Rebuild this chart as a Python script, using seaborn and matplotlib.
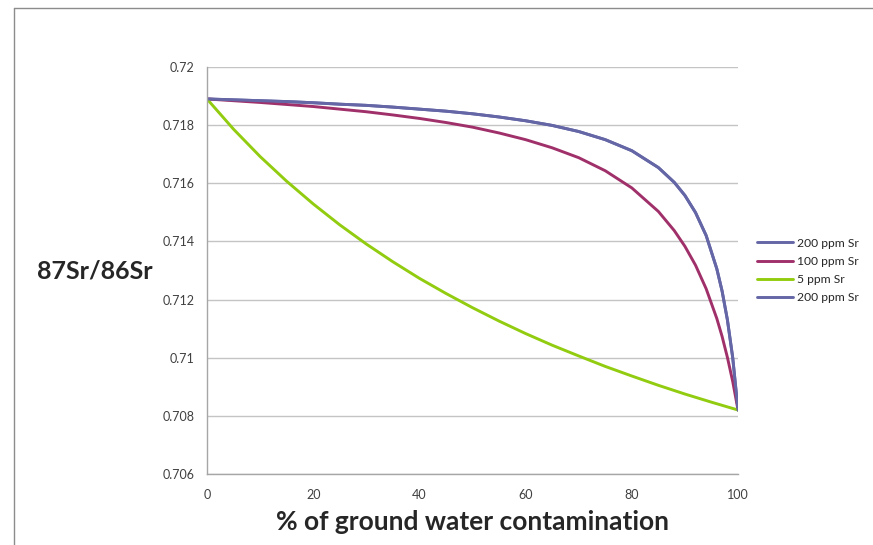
import numpy as np
import pandas as pd
import matplotlib
matplotlib.use("Agg")
from matplotlib import pyplot as plt
from matplotlib.lines import Line2D
import seaborn as sns

# % of ground water contamination
x_pct = [0, 5, 10, 15, 20, 25, 30, 35, 40, 45, 50, 55, 60, 65, 70, 75, 80, 85,
         88, 90, 92, 94, 96, 97, 98, 99, 100]

# 87Sr/86Sr
sr_200 = [0.71890, 0.71887, 0.71884, 0.71881, 0.71877, 0.71872, 0.71868, 0.71862,
          0.71855, 0.71848, 0.71839, 0.71828, 0.71815, 0.71799, 0.71778, 0.71750,
          0.71712, 0.71654, 0.71603, 0.71558, 0.71499, 0.71420, 0.71306, 0.71229,
          0.71130, 0.71000, 0.70820]
sr_100 = [0.71890, 0.71884, 0.71878, 0.71871, 0.71864, 0.71855, 0.71846, 0.71835,
          0.71823, 0.71809, 0.71793, 0.71773, 0.71750, 0.71722, 0.71688, 0.71643,
          0.71584, 0.71503, 0.71437, 0.71383, 0.71318, 0.71237, 0.71135, 0.71073,
          0.71001, 0.70918, 0.70820]

x_green = [0, 5, 10, 15, 20, 25, 30, 35, 40, 45, 50, 55, 60, 65, 70, 75, 80, 85,
           90, 95, 100]
sr_5 = [0.71890, 0.71786, 0.71692, 0.71607, 0.71529, 0.71457, 0.71391, 0.71330,
        0.71273, 0.71221, 0.71172, 0.71126, 0.71083, 0.71043, 0.71006, 0.70970,
        0.70937, 0.70905, 0.70875, 0.70847, 0.70820]

labels = ["200 ppm Sr", "100 ppm Sr", "5 ppm Sr", "200 ppm Sr"]
colors = ["#6466a6", "#a0306a", "#92cc10", "#6466a6"]

sns.set_style("white")
plt.rcParams['font.family'] = ['Lato', 'DejaVu Sans']

fig = plt.figure(figsize=(8.73, 5.45), dpi=100)
ax = fig.add_axes([0.2371, 0.1303, 0.6083, 0.7468])

series = [(x_pct, sr_200), (x_pct, sr_100), (x_green, sr_5), (x_pct, sr_200)]
for (xs, ys), lab, col in zip(series, labels, colors):
    d = pd.DataFrame({"x": xs, "y": ys})
    sns.lineplot(data=d, x="x", y="y", ax=ax, color=col, linewidth=2.1,
                 label=lab, sort=False)

ax.set_xlim(0, 100)
ax.set_ylim(0.706, 0.720)
ax.set_xticks(np.arange(0, 101, 20))
ax.set_xticks(np.arange(0, 101, 5), minor=True)
ax.set_yticks(np.arange(0.706, 0.7201, 0.002))
ax.set_yticklabels(["0.706", "0.708", "0.71", "0.712", "0.714", "0.716",
                    "0.718", "0.72"])

# excel style grid and axes
ax.grid(axis="y", color="#c4c4c4", linewidth=1)
ax.grid(axis="x", visible=False)
for s in ["top", "right"]:
    ax.spines[s].set_visible(False)
for s in ["left", "bottom"]:
    ax.spines[s].set_color("#a6a6a6")
    ax.spines[s].set_linewidth(1)
ax.tick_params(axis="both", which="both", direction="out", color="#a6a6a6",
               labelsize=9, labelcolor="#404040")
ax.tick_params(axis="x", which="major", length=5, pad=6)
ax.tick_params(axis="x", which="minor", length=4)
ax.tick_params(axis="y", which="major", length=5, pad=4)

ax.set_xlabel("% of ground water contamination", fontsize=19, fontweight="bold",
              labelpad=6)
ax.set_ylabel("")
fig.text(0.109, 0.503, "87Sr/86Sr", fontsize=18, fontweight="bold",
         ha="center", va="center")

leg = ax.legend(loc="center left", bbox_to_anchor=(1.015, 0.50), frameon=False,
                fontsize=8.7, handlelength=3.0, handletextpad=0.3,
                labelspacing=0.6)

# chart area border
fig.add_artist(Line2D([14 / 873, 1], [1 - 8 / 545, 1 - 8 / 545],
                      color="#8c8c8c", linewidth=1))
fig.add_artist(Line2D([14 / 873, 14 / 873], [0, 1 - 8 / 545],
                      color="#8c8c8c", linewidth=1))

fig.savefig("out.png", dpi=100)
